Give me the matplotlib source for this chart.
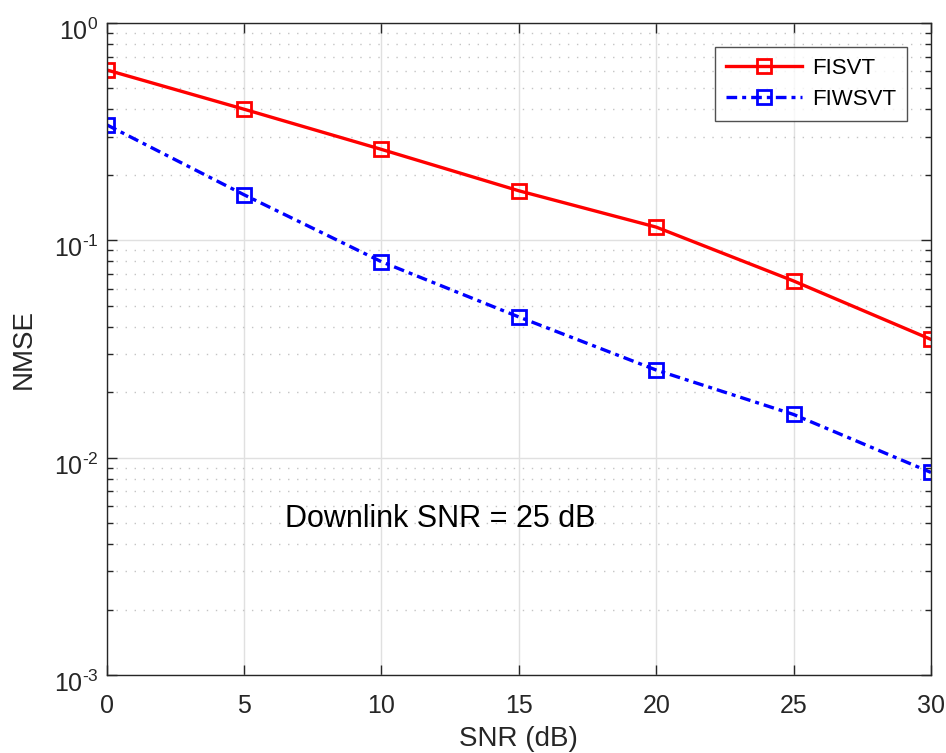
import matplotlib
matplotlib.use("Agg")
import matplotlib.pyplot as plt
from matplotlib.ticker import LogLocator, NullFormatter, FixedLocator, FuncFormatter
from matplotlib.transforms import ScaledTranslation
import numpy as np

plt.rcParams['font.family'] = ['Liberation Sans', 'DejaVu Sans']
plt.rcParams['mathtext.fontset'] = 'custom'
plt.rcParams['mathtext.rm'] = 'Liberation Sans'
plt.rcParams['mathtext.it'] = 'Liberation Sans'

snr = [0, 5, 10, 15, 20, 25, 30]
nmse_fisvt = [0.608, 0.401, 0.262, 0.169, 0.115, 0.065, 0.035]
nmse_fiwsvt = [0.340, 0.162, 0.0797, 0.0444, 0.0253, 0.0158, 0.00855]
xticks = [0, 5, 10, 15, 20, 25, 30]

fig = plt.figure(figsize=(9.46, 7.53), dpi=100)
ax = fig.add_axes([0.1128, 0.1036, 0.8713, 0.8659])

ax.plot(snr, nmse_fisvt, '-', color='#ff0000', lw=2.4, marker='s', ms=9.5,
        mfc='none', mec='#ff0000', mew=2.0, label='FISVT')
ax.plot(snr, nmse_fiwsvt, color='#0000ff', lw=2.4, marker='s', ms=9.5,
        mfc='none', mec='#0000ff', mew=2.0, label='FIWSVT',
        ls=(0, (3.2, 1.5, 1.2, 1.5)))

ax.set_yscale('log')
ax.set_xlim(0, 30)
ax.set_ylim(1e-3, 1e0)
ax.xaxis.set_major_locator(FixedLocator(xticks))
ax.yaxis.set_major_locator(LogLocator(base=10, numticks=10))
ax.yaxis.set_minor_locator(LogLocator(base=10, subs=range(2, 10), numticks=100))
ax.yaxis.set_minor_formatter(NullFormatter())
ax.yaxis.set_major_formatter(
    FuncFormatter(lambda v, p: r'$10^{\text{%d}}$' % int(round(np.log10(v)))))

ax.grid(True, which='major', color='#e0e0e0', lw=1.0, ls='-')
ax.grid(True, which='minor', axis='y', color='#c4c4c4', lw=1.0, ls=(0, (1, 5.5)))
ax.set_axisbelow(True)

ax.tick_params(which='both', direction='in', top=True, right=True,
               colors='#262626', labelsize=18, width=1.0)
ax.tick_params(which='major', length=7)
ax.tick_params(which='minor', length=4)
ax.tick_params(axis='x', pad=14)
ax.tick_params(axis='y', pad=6)
for s in ax.spines.values():
    s.set_color('#262626')
    s.set_linewidth(1.0)

# drop the exponent labels a little so the base "10" sits on the tick
shift = ScaledTranslation(0, -4.5 / 72, fig.dpi_scale_trans)
for lbl in ax.get_yticklabels():
    lbl.set_transform(lbl.get_transform() + shift)

ax.set_xlabel('SNR (dB)', fontsize=20, color='#262626', labelpad=5.5)
ax.set_ylabel('NMSE', fontsize=20, color='#262626', labelpad=12)

ax.text(6.48, 0.0052, 'Downlink SNR = 25 dB', fontsize=22, color='#000000',
        va='center', ha='left')

leg = ax.legend(loc='upper right', bbox_to_anchor=(0.9709, 0.9632), fontsize=16,
                frameon=True, fancybox=False, edgecolor='#262626',
                handlelength=3.4, borderpad=0.5, labelspacing=0.45,
                handletextpad=0.45, borderaxespad=0)
leg.get_frame().set_linewidth(1.0)

fig.savefig('out.png', dpi=100)
